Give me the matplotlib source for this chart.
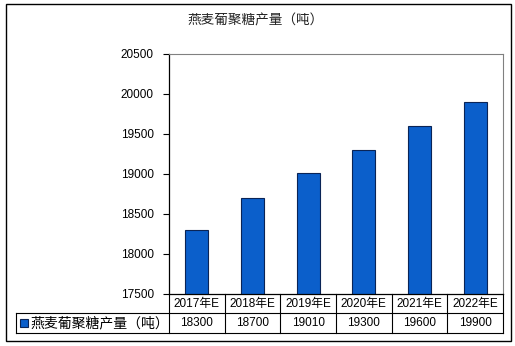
import matplotlib
matplotlib.use('Agg')
import matplotlib.pyplot as plt
from matplotlib.lines import Line2D
from matplotlib.patches import Rectangle
from matplotlib.transforms import blended_transform_factory

plt.rcParams['font.family'] = ['Liberation Sans', 'Noto Sans CJK SC', 'DejaVu Sans']

# 数据
years = ['2017年E', '2018年E', '2019年E', '2020年E', '2021年E', '2022年E']
output = [18300, 18700, 19010, 19300, 19600, 19900]
series_name = '燕麦葡聚糖产量（吨）'
title = '燕麦葡聚糖产量（吨）'
yticks = [17500, 18000, 18500, 19000, 19500, 20000, 20500]

W, H = 515, 346
bar_color = '#0B5FCB'
edge_color = '#0A2456'
cjk = ['Noto Sans CJK SC', 'DejaVu Sans']


def fx(x):
    return x / W


def fy(y):
    return 1 - y / H


fig = plt.figure(figsize=(W / 100, H / 100), dpi=100)
fig.patch.set_facecolor('white')

# 外边框
fig.add_artist(Rectangle((fx(6), fy(341)), fx(505), 337 / H, transform=fig.transFigure,
                         fill=False, edgecolor='black', linewidth=1))

fig.text(fx(256), fy(20), title, ha='center', va='center', fontsize=9.8,
         family=cjk, color='#222222')

ax = fig.add_axes([fx(169), fy(294), 334 / W, 240 / H])
ax.bar(range(len(years)), output, width=0.41, color=bar_color,
       edgecolor=edge_color, linewidth=0.8, zorder=2)
ax.set_xlim(-0.5, len(years) - 0.5)
ax.set_ylim(yticks[0], yticks[-1])
ax.set_yticks(yticks)
ax.set_xticks([])
ax.tick_params(axis='y', direction='out', length=4, width=0.8, pad=7, labelsize=8.5)
for s in ['top', 'right']:
    ax.spines[s].set_color('#808080')
for s in ['left', 'bottom']:
    ax.spines[s].set_color('black')
    ax.spines[s].set_linewidth(0.9)

# 数据表
tr = blended_transform_factory(ax.transData, fig.transFigure)
row1_mid, row2_mid = 303.5, 323
y_top, y_mid, y_bot = 294, 313, 333
n = len(years)
for i in range(n + 1):
    fig.add_artist(Line2D([i - 0.5, i - 0.5], [fy(y_top), fy(y_bot)],
                          transform=tr, color='black', linewidth=0.8))
for yy in (y_mid, y_bot):
    fig.add_artist(Line2D([fx(16), fx(503)], [fy(yy), fy(yy)],
                          transform=fig.transFigure, color='black', linewidth=0.8))
fig.add_artist(Line2D([fx(16), fx(16)], [fy(y_mid), fy(y_bot)],
                      transform=fig.transFigure, color='black', linewidth=0.8))

for i, (yr, v) in enumerate(zip(years, output)):
    fig.text(i, fy(row1_mid), yr, transform=tr, ha='center', va='center', fontsize=8.5)
    fig.text(i, fy(row2_mid), f'{v}', transform=tr, ha='center', va='center', fontsize=8.5)

# 图例
fig.add_artist(Rectangle((fx(20), fy(327)), fx(8), 8 / H, transform=fig.transFigure,
                         facecolor=bar_color, edgecolor=edge_color, linewidth=0.8))
fig.text(fx(30), fy(row2_mid), series_name, ha='left', va='center', fontsize=10,
         family=cjk)

fig.savefig('out.png', dpi=100)
